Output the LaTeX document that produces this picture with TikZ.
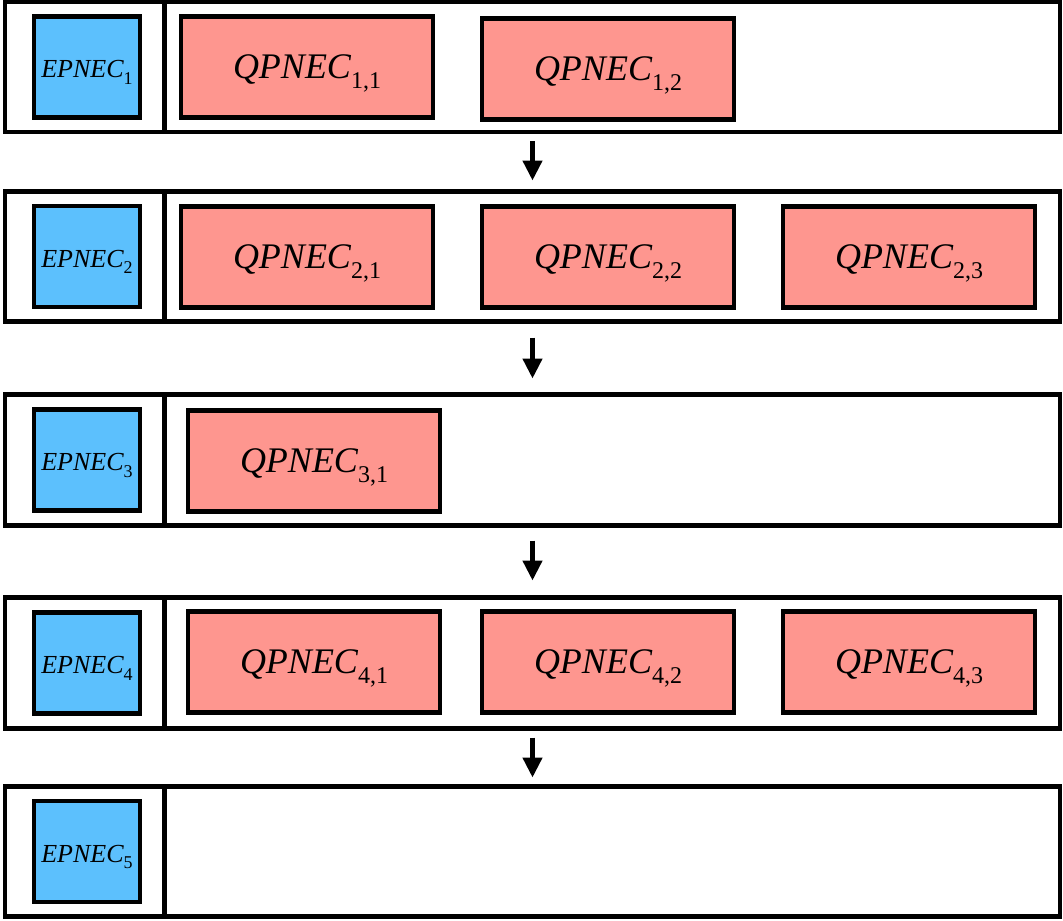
\documentclass[tikz,border=0pt]{standalone}
\usepackage{fontspec}
\setmainfont{Liberation Serif}
\usetikzlibrary{arrows.meta}
\definecolor{epblue}{RGB}{92,192,253}
\definecolor{qppink}{RGB}{254,150,143}
\newcommand\qpn[1]{{\fontsize{36}{36}\selectfont\itshape QPNEC\raisebox{-0.28em}{\fontsize{24}{24}\selectfont\upshape #1}}}
\newcommand\epn[1]{{\fontsize{26}{26}\selectfont\itshape EPNEC\raisebox{-0.25em}{\fontsize{18}{18}\selectfont\upshape #1}}}
\tikzset{
  rowframe/.style={draw=black, line width=4.5pt, fill=white, minimum width=1055pt, inner sep=0pt, outer sep=0pt},
  divline/.style={draw=black, line width=4.5pt},
  epbox/.style={draw=black, line width=4.5pt, fill=epblue, minimum width=106pt, minimum height=101pt, inner sep=0pt, text height=25pt, text depth=4pt},
  qpbox/.style={draw=black, line width=4.5pt, fill=qppink, minimum width=252pt, minimum height=101pt, inner sep=0pt, text height=26pt, text depth=4pt},
  flow/.style={draw=black, line width=4.5pt, -{Triangle[length=20pt,width=19pt]}}
}
\begin{document}
\begin{tikzpicture}[x=1pt,y=-1pt]
\useasboundingbox (0,0) rectangle (1063,921);
% row frames
\node[rowframe, minimum height=130pt] (r1) at (532.5,67) {};
\node[rowframe, minimum height=130pt] (r2) at (532.5,256.5) {};
\node[rowframe, minimum height=131pt] (r3) at (532.5,460) {};
\node[rowframe, minimum height=131pt] (r4) at (532.5,663) {};
\node[rowframe, minimum height=130pt] (r5) at (532.5,851.5) {};
% dividers
\coordinate (dv) at (164.5,0);
\foreach \r in {r1,r2,r3,r4,r5}{
  \draw[divline] (\r.north -| dv) -- (\r.south -| dv);
}
% EPNEC boxes
\node[epbox] (e1) at (87,67) {\epn{1}};
\node[epbox] (e2) at (87,256.5) {\epn{2}};
\node[epbox] (e3) at (87,460) {\epn{3}};
\node[epbox] (e4) at (87,663) {\epn{4}};
\node[epbox] (e5) at (87,851.5) {\epn{5}};
% QPNEC boxes
\node[qpbox] (q11) at (307,67) {\qpn{1,1}};
\node[qpbox] (q12) at (608,69) {\qpn{1,2}};
\node[qpbox] (q21) at (307,257) {\qpn{2,1}};
\node[qpbox] (q22) at (608,257) {\qpn{2,2}};
\node[qpbox] (q23) at (909,257) {\qpn{2,3}};
\node[qpbox] (q31) at (314,461) {\qpn{3,1}};
\node[qpbox] (q41) at (314,662) {\qpn{4,1}};
\node[qpbox] (q42) at (608,662) {\qpn{4,2}};
\node[qpbox] (q43) at (909,662) {\qpn{4,3}};
% arrows
\draw[flow, shorten <=9pt, shorten >=11pt] (r1.south) -- (r2.north);
\draw[flow, shorten <=16pt, shorten >=16pt] (r2.south) -- (r3.north);
\draw[flow, shorten <=15pt, shorten >=17pt] (r3.south) -- (r4.north);
\draw[flow, shorten <=9pt, shorten >=9pt] (r4.south) -- (r5.north);
\end{tikzpicture}
\end{document}
